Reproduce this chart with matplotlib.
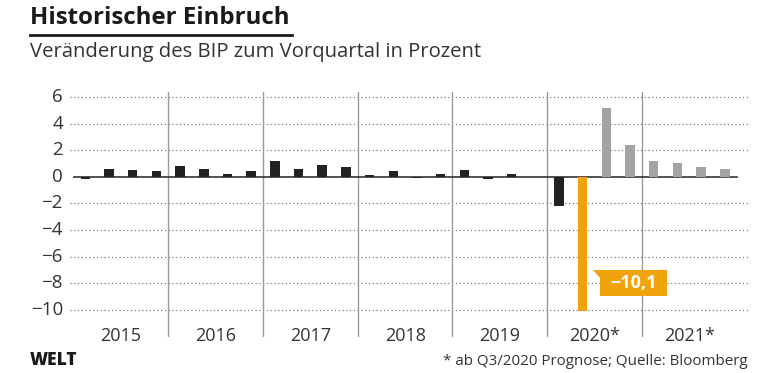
import matplotlib.pyplot as plt
import numpy as np
from matplotlib.patches import Rectangle

# Veränderung des BIP zum Vorquartal, Q1/2015 .. Q4/2021
years = ['2015', '2016', '2017', '2018', '2019', '2020*', '2021*']
bip_2015 = [-0.2, 0.6, 0.5, 0.4]
bip_2016 = [0.8, 0.6, 0.2, 0.4]
bip_2017 = [1.2, 0.6, 0.9, 0.7]
bip_2018 = [0.1, 0.4, -0.1, 0.2]
bip_2019 = [0.5, -0.2, 0.2, 0.0]
bip_2020 = [-2.2, -10.1, 5.2, 2.4]
bip_2021 = [1.2, 1.0, 0.7, 0.6]
yticks = [6, 4, 2, 0, -2, -4, -6, -8, -10]
label_text = '\u221210,1'

values = bip_2015 + bip_2016 + bip_2017 + bip_2018 + bip_2019 + bip_2020 + bip_2021
n = len(values)
x = np.arange(n) + 0.5

black = '#222222'
orange = '#f0a30a'
grey = '#a3a3a3'
colors = [black] * 21 + [orange] + [grey] * 6

plt.rcParams['font.family'] = ['Open Sans', 'DejaVu Sans']

fig = plt.figure(figsize=(7.8, 3.73), dpi=100)
W, H = 780, 373
ax = fig.add_axes([70 / W, 1 - 337 / H, (748 - 70) / W, (337 - 92) / H])
ax.set_xlim(-0.15, 28.48)
ax.set_ylim(-12.05, 6.37)
ax.axis('off')

# dotted grid
for t in yticks:
    if t != 0:
        ax.plot([-0.15, 28.48], [t, t], ls=(0, (1, 2.4)), color='#666666', lw=0.8, zorder=1)
    ax.text(-0.45, t, str(t).replace('-', '\u2212'), ha='right', va='center',
            fontsize=13.5, color='#333333')

# year separators and labels
for i in range(1, len(years)):
    ax.plot([4 * i, 4 * i], [-12.05, 6.37], color='#9a9a9a', lw=1, zorder=1)
for i, yr in enumerate(years):
    ax.text(4 * i + 2, -11.95, yr, ha='center', va='center', fontsize=13,
            color='#333333')

ax.bar(x, values, width=0.4, color=colors, zorder=3)
ax.plot([0, 28], [0, 0], color='#333333', lw=1.2, zorder=2)

# label for the crash quarter
i_min = int(np.argmin(values))
bx0, bx1 = x[i_min] + 0.74, x[i_min] + 3.57
by0, by1 = -8.97, -7.0
ax.add_patch(Rectangle((bx0, by0), bx1 - bx0, by1 - by0, fc=orange, ec='none', zorder=4))
ax.fill([x[i_min] + 0.45, bx0, bx0], [by1, by1, by1 - 0.6], color=orange, lw=0, zorder=4)
ax.text((bx0 + bx1) / 2, (by0 + by1) / 2, label_text, ha='center', va='center',
        fontsize=13, fontweight='bold', color='white', zorder=5)

# titles
fig.text(30 / W, 1 - 24 / H, 'Historischer Einbruch', fontsize=17.3, fontweight='bold',
         color='#1a1a1a', va='baseline')
fig.add_artist(plt.Line2D([30 / W, 292 / W], [1 - 35 / H, 1 - 35 / H], color='#1a1a1a', lw=2))
fig.text(30 / W, 1 - 57 / H, 'Veränderung des BIP zum Vorquartal in Prozent', fontsize=14.6,
         color='#333333', va='baseline')
fig.text(30 / W, 1 - 365 / H, 'WELT', fontsize=12.5, fontweight='heavy', color='#1a1a1a',
         va='baseline')
fig.text(748 / W, 1 - 365 / H, '* ab Q3/2020 Prognose; Quelle: Bloomberg', fontsize=10.9,
         color='#333333', ha='right', va='baseline')

fig.savefig('out.png', dpi=100)
